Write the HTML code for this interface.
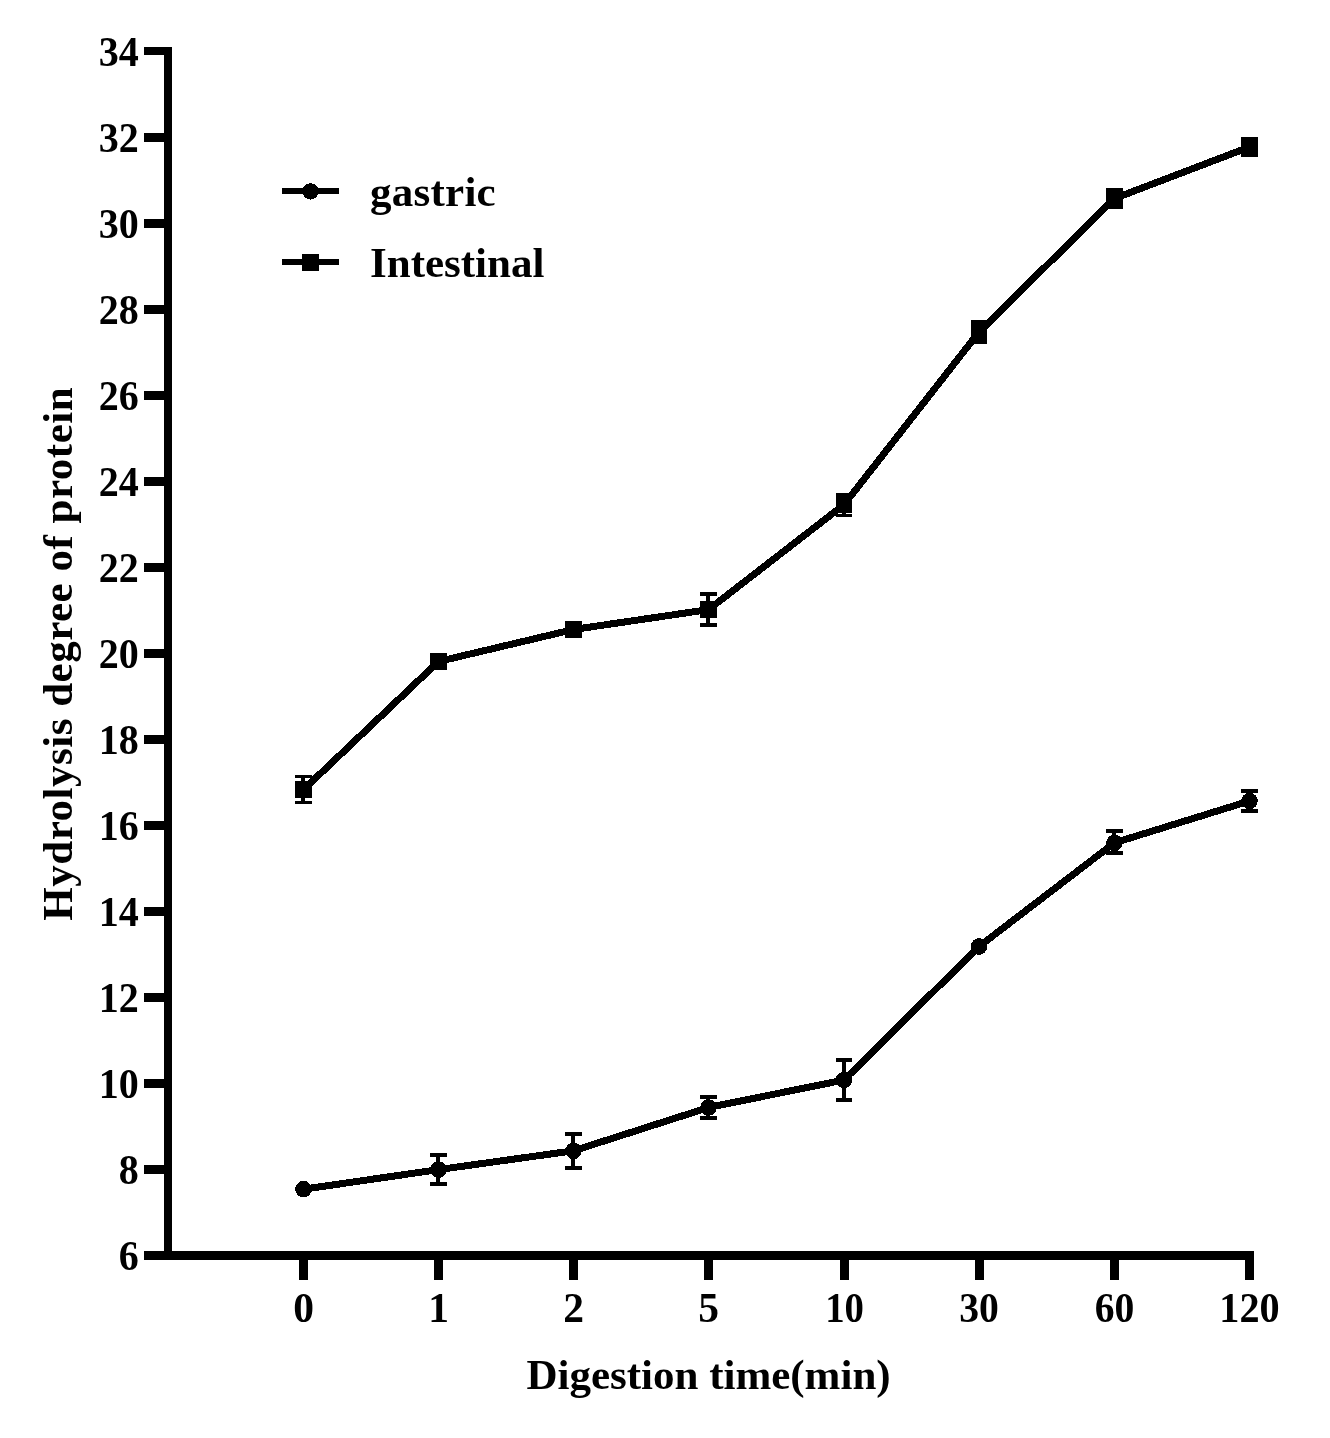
<!DOCTYPE html>
<html lang="en"><head><meta charset="utf-8"><title>Hydrolysis degree of protein</title>
<style>
html,body{margin:0;padding:0;background:#fff;}
body{width:1330px;height:1438px;overflow:hidden;}
svg{display:block;}
text{font-family:"Liberation Serif","Times New Roman",serif;font-weight:bold;fill:#000;}
</style></head><body>
<svg width="1330" height="1438" viewBox="0 0 1330 1438">
<rect width="1330" height="1438" fill="#fff"/>

<g fill="#000" shape-rendering="crispEdges">
<rect x="164" y="47" width="8" height="1213"/>
<rect x="144" y="1251" width="1110" height="9"/>
<rect x="144" y="47" width="22" height="8"/>
<rect x="144" y="133" width="22" height="9"/>
<rect x="144" y="219" width="22" height="9"/>
<rect x="144" y="305" width="22" height="9"/>
<rect x="144" y="391" width="22" height="9"/>
<rect x="144" y="477" width="22" height="9"/>
<rect x="144" y="563" width="22" height="9"/>
<rect x="144" y="649" width="22" height="9"/>
<rect x="144" y="735" width="22" height="9"/>
<rect x="144" y="821" width="22" height="9"/>
<rect x="144" y="907" width="22" height="9"/>
<rect x="144" y="993" width="22" height="9"/>
<rect x="144" y="1079" width="22" height="9"/>
<rect x="144" y="1165" width="22" height="9"/>
<rect x="144" y="1251" width="22" height="9"/>
<rect x="299" y="1255" width="9" height="25"/>
<rect x="434" y="1255" width="9" height="25"/>
<rect x="569" y="1255" width="9" height="25"/>
<rect x="704" y="1255" width="9" height="25"/>
<rect x="840" y="1255" width="9" height="25"/>
<rect x="975" y="1255" width="9" height="25"/>
<rect x="1110" y="1255" width="9" height="25"/>
<rect x="1245" y="1255" width="9" height="25"/>
</g>
<g font-size="41.5" text-anchor="end">
<text transform="translate(138.8,65.9) scale(0.965,1)">34</text>
<text transform="translate(138.8,151.9) scale(0.965,1)">32</text>
<text transform="translate(138.8,237.9) scale(0.965,1)">30</text>
<text transform="translate(138.8,323.9) scale(0.965,1)">28</text>
<text transform="translate(138.8,409.9) scale(0.965,1)">26</text>
<text transform="translate(138.8,495.9) scale(0.965,1)">24</text>
<text transform="translate(138.8,581.9) scale(0.965,1)">22</text>
<text transform="translate(138.8,667.9) scale(0.965,1)">20</text>
<text transform="translate(138.8,753.9) scale(0.965,1)">18</text>
<text transform="translate(138.8,839.9) scale(0.965,1)">16</text>
<text transform="translate(138.8,925.9) scale(0.965,1)">14</text>
<text transform="translate(138.8,1011.9) scale(0.965,1)">12</text>
<text transform="translate(138.8,1097.9) scale(0.965,1)">10</text>
<text transform="translate(138.8,1183.9) scale(0.965,1)">8</text>
<text transform="translate(138.8,1269.9) scale(0.965,1)">6</text>
</g>
<g font-size="41.5" text-anchor="middle">
<text transform="translate(303.5,1321.7) scale(1,1)">0</text>
<text transform="translate(438.5,1321.7) scale(1,1)">1</text>
<text transform="translate(573.5,1321.7) scale(1,1)">2</text>
<text transform="translate(708.5,1321.7) scale(1,1)">5</text>
<text transform="translate(844.6,1321.7) scale(0.935,1)">10</text>
<text transform="translate(979.0,1321.7) scale(0.955,1)">30</text>
<text transform="translate(1114.5,1321.7) scale(0.955,1)">60</text>
<text transform="translate(1249.5,1321.7) scale(0.97,1)">120</text>
</g>
<text font-size="43" text-anchor="middle" x="708.5" y="1389.4">Digestion time(min)</text>
<text font-size="43" letter-spacing="0.51" text-anchor="middle" transform="translate(72.2,653.8) rotate(-90)">Hydrolysis degree of protein</text>
<g shape-rendering="crispEdges"><rect x="282" y="188" width="57" height="6"/><rect x="282" y="259" width="57" height="6"/><rect x="302" y="254" width="17" height="17"/></g>
<circle cx="310.5" cy="191.4" r="8.2" shape-rendering="crispEdges"/>
<text font-size="43" letter-spacing="0.25" x="370" y="205.8">gastric</text>
<text font-size="43" x="370" y="276.8">Intestinal</text>
<polyline points="303.5,1189.2 438.5,1169.6 573.5,1150.8 708.5,1107.5 844.0,1080.0 979.0,946.5 1114.5,842.8 1249.5,801.0" fill="none" stroke="#000" stroke-width="7" stroke-linejoin="round" shape-rendering="crispEdges"/>
<g fill="#000" shape-rendering="crispEdges">
<rect x="436" y="1153" width="4" height="33"/><rect x="430" y="1153" width="17" height="4"/><rect x="430" y="1182" width="17" height="4"/>
<rect x="571" y="1132" width="4" height="38"/><rect x="565" y="1132" width="17" height="4"/><rect x="565" y="1166" width="17" height="4"/>
<rect x="706" y="1095" width="4" height="25"/><rect x="700" y="1095" width="17" height="4"/><rect x="700" y="1116" width="17" height="4"/>
<rect x="842" y="1058" width="4" height="44"/><rect x="836" y="1058" width="16" height="4"/><rect x="836" y="1098" width="16" height="4"/>
<rect x="1112" y="829" width="4" height="26"/><rect x="1106" y="829" width="17" height="4"/><rect x="1106" y="851" width="17" height="4"/>
<rect x="1247" y="789" width="4" height="24"/><rect x="1241" y="789" width="17" height="4"/><rect x="1241" y="809" width="17" height="4"/>
</g>
<circle cx="303.5" cy="1189.2" r="8.3" shape-rendering="crispEdges"/>
<circle cx="438.5" cy="1169.6" r="8.3" shape-rendering="crispEdges"/>
<circle cx="573.5" cy="1150.8" r="8.3" shape-rendering="crispEdges"/>
<circle cx="708.5" cy="1107.5" r="8.3" shape-rendering="crispEdges"/>
<circle cx="844.0" cy="1080.0" r="8.3" shape-rendering="crispEdges"/>
<circle cx="979.0" cy="946.5" r="8.3" shape-rendering="crispEdges"/>
<circle cx="1114.5" cy="842.8" r="8.3" shape-rendering="crispEdges"/>
<circle cx="1249.5" cy="801.0" r="8.3" shape-rendering="crispEdges"/>
<polyline points="303.5,789.6 438.5,661.5 573.5,629.5 708.5,609.6 844.0,504.7 979.0,332.0 1114.5,198.5 1249.5,147.0" fill="none" stroke="#000" stroke-width="7" stroke-linejoin="round" shape-rendering="crispEdges"/>
<g fill="#000" shape-rendering="crispEdges">
<rect x="301" y="775" width="4" height="29"/><rect x="295" y="775" width="17" height="3"/><rect x="295" y="801" width="17" height="3"/>
<rect x="706" y="592" width="4" height="35"/><rect x="700" y="592" width="17" height="4"/><rect x="700" y="623" width="17" height="4"/>
<rect x="842" y="493" width="4" height="24"/><rect x="836" y="493" width="16" height="3"/><rect x="836" y="514" width="16" height="3"/>
<rect x="977" y="320" width="4" height="24"/><rect x="971" y="320" width="16" height="4"/><rect x="971" y="340" width="16" height="4"/>
<rect x="1112" y="188" width="4" height="21"/><rect x="1106" y="188" width="17" height="4"/><rect x="1106" y="205" width="17" height="4"/>
<rect x="1247" y="137" width="4" height="20"/><rect x="1241" y="137" width="17" height="4"/><rect x="1241" y="153" width="17" height="4"/>
</g>
<rect x="295" y="781" width="17" height="17" shape-rendering="crispEdges"/>
<rect x="430" y="653" width="17" height="17" shape-rendering="crispEdges"/>
<rect x="565" y="621" width="17" height="17" shape-rendering="crispEdges"/>
<rect x="700" y="601" width="17" height="17" shape-rendering="crispEdges"/>
<rect x="836" y="496" width="16" height="17" shape-rendering="crispEdges"/>
<rect x="971" y="324" width="16" height="17" shape-rendering="crispEdges"/>
<rect x="1106" y="190" width="17" height="17" shape-rendering="crispEdges"/>
<rect x="1241" y="138" width="17" height="17" shape-rendering="crispEdges"/>
</svg></body></html>
